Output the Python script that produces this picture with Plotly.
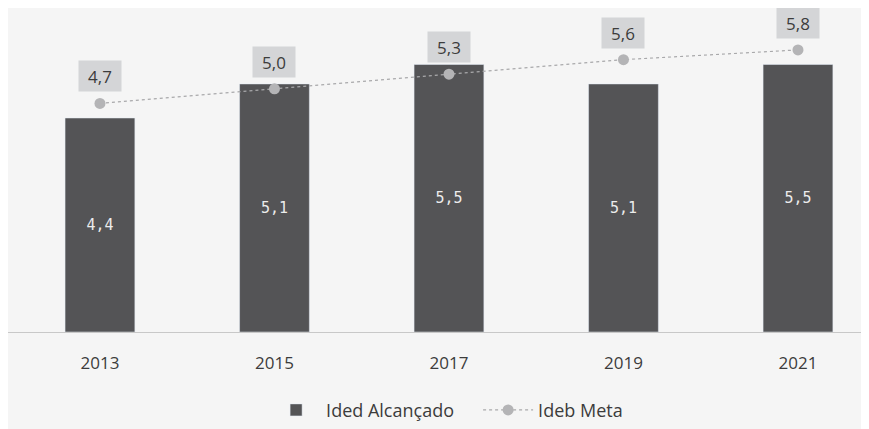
import plotly.graph_objects as go

anos = ["2013", "2015", "2017", "2019", "2021"]
ided_alcancado = [4.4, 5.1, 5.5, 5.1, 5.5]
ideb_meta = [4.7, 5.0, 5.3, 5.6, 5.8]

BG = "#f5f5f5"
BAR = "#545456"
FONT = "Open Sans, Liberation Sans, sans-serif"

fig = go.Figure()

fig.add_trace(go.Bar(
    x=anos,
    y=ided_alcancado,
    name="Ided Alcançado",
    marker_color=BAR,
    width=0.4,
    texttemplate="%{y:.1f}",
    textposition="inside",
    insidetextanchor="middle",
    textfont=dict(color="#ececec", size=15, family="DejaVu Sans Mono, monospace"),
))

fig.add_trace(go.Scatter(
    x=anos,
    y=ideb_meta,
    name="Ideb Meta",
    mode="lines+markers",
    line=dict(color="#a9a9ab", width=1.2, dash="dot"),
    marker=dict(color="#b4b4b6", size=11),
))

# meta labels in grey boxes above the points (x given as category index)
for i, v in enumerate(ideb_meta):
    fig.add_annotation(
        x=i, y=v, xref="x", yref="y",
        text=f"{v:.1f}".replace(".", ","),
        showarrow=False, yshift=27,
        width=36, height=24,
        bgcolor="#d4d5d7", borderpad=3,
        font=dict(size=17, color="#3c3c3c", family=FONT),
    )

fig.update_layout(
    width=861,
    height=421,
    paper_bgcolor=BG,
    plot_bgcolor=BG,
    separators=",.",
    margin=dict(l=0, r=0, t=3, b=87),
    font=dict(family=FONT, color="#3c3c3c"),
    showlegend=True,
    legend=dict(
        orientation="h", x=0.546, xanchor="center", y=-0.186, yanchor="top",
        font=dict(size=18, color="#3c3c3c"),
        itemwidth=50,
        entrywidth=147,
        bgcolor="rgba(0,0,0,0)",
    ),
    bargap=0.6,
)

fig.update_xaxes(
    type="category",
    range=[-0.527, 4.407],
    showgrid=False,
    showline=True,
    linecolor="#c8c8c8",
    linewidth=1,
    tickfont=dict(size=17, color="#3c3c3c"),
    ticks="",
    ticklabelstandoff=16,
)
fig.update_yaxes(
    range=[0, 6.6],
    showgrid=False,
    zeroline=False,
    showticklabels=False,
)

fig.write_html("out.html")
